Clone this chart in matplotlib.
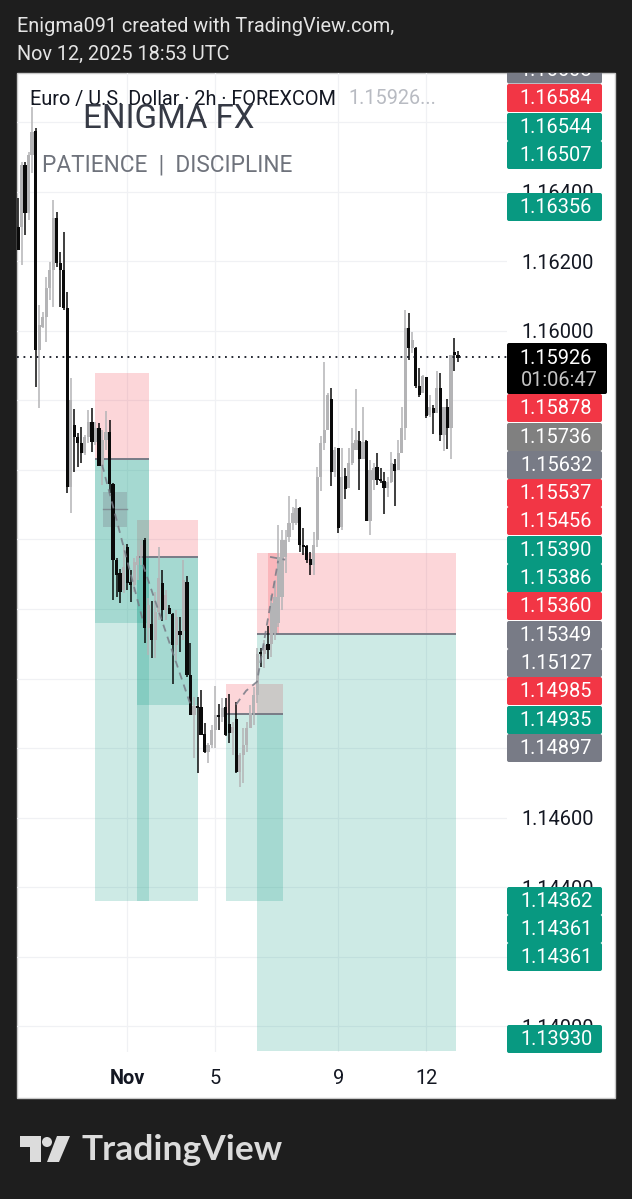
import matplotlib
matplotlib.use("Agg")
import matplotlib.pyplot as plt
from matplotlib.patches import Rectangle, FancyBboxPatch, Polygon, Circle

plt.rcParams['font.family'] = ['Roboto', 'DejaVu Sans']

# candles, 2h EUR/USD
opens = [1.16302,1.16302,1.16480,1.16342,1.16509,1.16578,1.15948,1.16014,1.16043,1.16127,
         1.16178,1.16328,1.16198,1.16178,1.16069,1.15554,1.15733,1.15698,1.15681,1.15652,
         1.15698,1.15741,1.15684,1.15724,1.15615,1.15689,1.15712,1.15563,1.15344,1.15307,
         1.15258,1.15382,1.15281,1.15273,1.15330,1.15356,1.15402,1.15149,1.15160,1.15114,
         1.15195,1.15278,1.15201,1.15206,1.15189,1.15100,1.15140,1.15140,1.15281,1.15014,
         1.14899,1.14925,1.14922,1.14844,1.14792,1.14813,1.14856,1.14899,1.14893,1.14922,
         1.14873,1.14847,1.14887,1.14735,1.14784,1.14813,1.14861,1.14905,1.14956,1.15080,
         1.15074,1.15103,1.15103,1.15135,1.15163,1.15238,1.15353,1.15411,1.15451,1.15451,
         1.15494,1.15388,1.15385,1.15347,1.15330,1.15402,1.15583,1.15681,1.15718,1.15807,
         1.15597,1.15666,1.15439,1.15586,1.15551,1.15623,1.15661,1.15687,1.15635,1.15687,
         1.15457,1.15574,1.15612,1.15577,1.15572,1.15551,1.15569,1.15620,1.15603,1.15652,
         1.15724,1.16012,1.15954,1.15954,1.15845,1.15825,1.15871,1.15761,1.15781,1.15767,
         1.15839,1.15704,1.15784,1.15724,1.15942,1.15934]
highs = [1.16385,1.16489,1.16489,1.16518,1.16647,1.16587,1.16078,1.16058,1.16158,1.16201,
         1.16380,1.16345,1.16230,1.16288,1.16115,1.15868,1.15779,1.15710,1.15727,1.15704,
         1.15776,1.15781,1.15741,1.15738,1.15718,1.15773,1.15747,1.15566,1.15350,1.15319,
         1.15388,1.15390,1.15316,1.15350,1.15373,1.15402,1.15408,1.15235,1.15227,1.15252,
         1.15382,1.15316,1.15258,1.15215,1.15192,1.15201,1.15181,1.15344,1.15298,1.15106,
         1.14951,1.14951,1.14971,1.14876,1.14818,1.14870,1.14982,1.14930,1.14948,1.14948,
         1.14959,1.14879,1.14936,1.14790,1.14861,1.14879,1.14928,1.14979,1.15091,1.15091,
         1.15114,1.15155,1.15244,1.15287,1.15445,1.15431,1.15431,1.15528,1.15497,1.15520,
         1.15497,1.15436,1.15388,1.15367,1.15425,1.15612,1.15701,1.15914,1.15825,1.15839,
         1.15669,1.15666,1.15666,1.15609,1.15666,1.15724,1.15836,1.15715,1.15784,1.15689,
         1.15632,1.15623,1.15652,1.15609,1.15597,1.15583,1.15655,1.15635,1.15689,1.15784,
         1.16063,1.16055,1.16000,1.15957,1.15896,1.15876,1.15871,1.15819,1.15790,1.15888,
         1.15882,1.15784,1.15807,1.15934,1.15983,1.15945]
lows = [1.16236,1.16193,1.16279,1.16322,1.16457,1.15842,1.15781,1.16012,1.15971,1.16092,
        1.16072,1.16187,1.16072,1.16063,1.15537,1.15480,1.15597,1.15612,1.15623,1.15646,
        1.15681,1.15655,1.15675,1.15615,1.15560,1.15661,1.15537,1.15229,1.15238,1.15221,
        1.15250,1.15258,1.15224,1.15252,1.15287,1.15330,1.15106,1.15071,1.15063,1.15063,
        1.15172,1.15169,1.15172,1.15189,1.14988,1.15057,1.15080,1.15114,1.15008,1.14899,
        1.14775,1.14732,1.14841,1.14790,1.14761,1.14804,1.14804,1.14856,1.14879,1.14838,
        1.14818,1.14784,1.14732,1.14692,1.14703,1.14792,1.14864,1.14870,1.14933,1.15037,
        1.15034,1.15060,1.15066,1.15114,1.15152,1.15201,1.15307,1.15396,1.15431,1.15445,
        1.15367,1.15359,1.15336,1.15301,1.15301,1.15382,1.15543,1.15661,1.15718,1.15557,
        1.15583,1.15422,1.15431,1.15520,1.15551,1.15618,1.15661,1.15546,1.15641,1.15457,
        1.15416,1.15546,1.15560,1.15566,1.15477,1.15526,1.15566,1.15500,1.15603,1.15652,
        1.15689,1.15919,1.15940,1.15839,1.15813,1.15825,1.15753,1.15756,1.15707,1.15767,
        1.15687,1.15658,1.15664,1.15635,1.15888,1.15914]
closes = [1.16236,1.16480,1.16342,1.16509,1.16575,1.15948,1.16020,1.16043,1.16127,1.16178,
          1.16328,1.16198,1.16178,1.16069,1.15554,1.15804,1.15698,1.15681,1.15652,1.15698,
          1.15741,1.15684,1.15724,1.15615,1.15689,1.15712,1.15563,1.15344,1.15301,1.15252,
          1.15324,1.15278,1.15273,1.15339,1.15356,1.15388,1.15149,1.15215,1.15114,1.15195,
          1.15293,1.15201,1.15244,1.15189,1.15100,1.15181,1.15129,1.15287,1.15014,1.14899,
          1.14925,1.14919,1.14841,1.14792,1.14813,1.14856,1.14899,1.14893,1.14919,1.14841,
          1.14847,1.14864,1.14735,1.14784,1.14813,1.14861,1.14905,1.14956,1.15074,1.15074,
          1.15100,1.15086,1.15221,1.15238,1.15353,1.15402,1.15402,1.15451,1.15480,1.15494,
          1.15388,1.15382,1.15344,1.15330,1.15388,1.15583,1.15681,1.15718,1.15819,1.15597,
          1.15661,1.15436,1.15583,1.15549,1.15623,1.15681,1.15689,1.15635,1.15684,1.15457,
          1.15603,1.15609,1.15574,1.15572,1.15551,1.15569,1.15623,1.15600,1.15652,1.15724,
          1.16012,1.15954,1.15977,1.15845,1.15819,1.15873,1.15758,1.15784,1.15767,1.15839,
          1.15704,1.15784,1.15724,1.15934,1.15934,1.15926]

last_price = 1.15926

# price axis, labels under the tags are left blank
price_ticks = [1.140,1.142,1.144,1.146,1.148,1.150,1.152,1.154,1.156,1.158,1.160,1.162,1.164,1.166]
shown_ticks = [1.140, 1.144, 1.146, 1.160, 1.162, 1.164]
date_ticks = [31, 56, 91, 116]
date_labels = ["Nov", "5", "9", "12"]

# long/short position boxes: bar start, bar end, top, bottom
red_boxes = [(21.9, 37.2, 1.15878, 1.15632), (33.8, 51.1, 1.15456, 1.15349),
             (59.1, 75.3, 1.14985, 1.14897), (67.9, 124.4, 1.15360, 1.15127),
             (71.0, 74.2, 1.15360, 1.15127)]
green_boxes = [(21.9, 37.2, 1.15632, 1.14362), (21.9, 37.2, 1.15632, 1.15160),
               (33.8, 51.1, 1.15349, 1.14361), (33.8, 51.1, 1.15349, 1.14925),
               (59.1, 75.3, 1.14897, 1.14361), (67.9, 124.4, 1.15127, 1.13930)]
entry_lines = [(21.9, 37.2, 1.15632), (33.8, 51.1, 1.15349),
               (59.1, 75.3, 1.14897), (67.9, 124.4, 1.15127)]
small_box = (24.1, 31.0, 1.15537, 1.15437, 1.15488)

# dashed paths
path_bars = [[23.9, 35.5], [35.5, 48.9], [61.9, 64.8, 67.9, 71.0, 73.9], [71.6, 75.9]]
path_prices = [[1.15615, 1.15166], [1.15327, 1.14928],
               [1.14925, 1.14965, 1.14991, 1.15172, 1.15339], [1.15350, 1.15342]]

# right hand labels
tag_values = ["1.16608","1.16584","1.16544","1.16507","1.16356","1.15878","1.15736","1.15632",
              "1.15537","1.15456","1.15390","1.15386","1.15360","1.15349","1.15127","1.14985",
              "1.14935","1.14897","1.14362","1.14361","1.14361","1.13930"]
tag_kinds = ["g","r","t","t","t","r","m","g","r","r","t","t","r","g","g","r","t","g","t","t","t","t"]
tag_rows = [69.5,98,127,155,207,408,437,465,493,521,550,578,606,635,663,691,720,748,901,929,957,1039]

COLORS = {"g": "#787b86", "r": "#f23645", "t": "#089981", "m": "#808080"}
BG = "#1e1e1e"
W, H = 632, 1199
PANE = (17, 507, 73, 1052)
# candle prices were read against a slightly lower baseline
READ_SHIFT = -3.7e-5


def main():
    fig = plt.figure(figsize=(W / 100, H / 100), dpi=100, facecolor=BG)

    # background frame
    back = fig.add_axes([0, 0, 1, 1], zorder=0)
    back.set_xlim(0, W)
    back.set_ylim(H, 0)
    back.axis("off")
    back.add_patch(Rectangle((17, 73), 598, 1025, fc="white", ec="#c8c8c8", lw=1))

    # main pane
    left, right, top, bottom = PANE
    ax = fig.add_axes([left / W, 1 - bottom / H, (right - left) / W, (bottom - top) / H], zorder=1)
    ax.patch.set_alpha(0)
    ax.set_xlim((left - 18) / 3.52, (right - 18) / 3.52)
    ax.set_ylim(1.16 - (bottom - 330.8) * 2.875e-5, 1.16 + (330.8 - top) * 2.875e-5)
    for s in ax.spines.values():
        s.set_visible(False)
    ax.yaxis.tick_right()
    ax.set_yticks(price_ticks)
    ax.set_yticklabels(["%.5f" % p if p in shown_ticks else "" for p in price_ticks])
    ax.set_xticks(date_ticks)
    ax.set_xticklabels(date_labels)
    ax.get_xticklabels()[0].set_fontweight("bold")
    ax.tick_params(axis="both", length=0, labelsize=14.4, labelcolor="#131722")
    ax.tick_params(axis="y", pad=10)
    ax.tick_params(axis="x", pad=12)
    ax.grid(True, color="#f0f1f4", lw=0.9)
    ax.set_axisbelow(True)

    for x0, x1, y0, y1 in red_boxes:
        ax.add_patch(Rectangle((x0, y1), x1 - x0, y0 - y1, fc="#f23645", alpha=0.2, lw=0, zorder=1))
    for x0, x1, y0, y1 in green_boxes:
        ax.add_patch(Rectangle((x0, y1), x1 - x0, y0 - y1, fc="#089981", alpha=0.2, lw=0, zorder=1))
    x0, x1, y0, y1, mid = small_box
    ax.add_patch(Rectangle((x0, y1), x1 - x0, y0 - y1, fc="#787b86", alpha=0.3, lw=0, zorder=1))
    ax.plot([x0, x1], [mid, mid], color="#787b86", lw=1, alpha=0.7, zorder=1)
    for x0, x1, y in entry_lines:
        ax.plot([x0, x1], [y, y], color="#787b86", lw=1.4, zorder=2, solid_capstyle="butt")

    # candles, black = down, grey = up
    for i in range(len(opens)):
        down = closes[i] < opens[i]
        col = "#0a0a0a" if down else "#b4b4b6"
        z = 4 if down else 3
        ax.vlines(i, lows[i] + READ_SHIFT, highs[i] + READ_SHIFT, color=col, lw=1.1, zorder=z)
        ax.bar(i, abs(closes[i] - opens[i]), bottom=min(opens[i], closes[i]) + READ_SHIFT, width=0.9,
               color=col, lw=0, zorder=z)

    for bx, py in zip(path_bars, path_prices):
        ax.plot(bx, py, color="#787b86", lw=1.3, ls=(0, (4, 3)), alpha=0.85, zorder=5)

    ax.axhline(last_price, color="#131722", lw=1.3, ls=(0, (1, 2.6)), zorder=6)

    # everything on top: labels and header text
    over = fig.add_axes([0, 0, 1, 1], zorder=2)
    over.set_xlim(0, W)
    over.set_ylim(H, 0)
    over.axis("off")
    over.patch.set_alpha(0)
    clip = Rectangle((17, 73), 598, 1025, transform=over.transData)

    for val, kind, row in zip(tag_values, tag_kinds, tag_rows):
        tag = FancyBboxPatch((507, row - 14), 95, 28, boxstyle="round,pad=0,rounding_size=2",
                             fc=COLORS[kind], lw=0, zorder=3)
        over.add_patch(tag)
        tag.set_clip_path(clip)
        t = over.text(556, row + 0.5, val, color="white", fontsize=14.4, ha="center", va="center", zorder=4)
        t.set_clip_on(True)
        t.set_clip_path(clip)

    over.add_patch(FancyBboxPatch((507, 343), 100, 51, boxstyle="round,pad=0,rounding_size=2",
                                  fc="black", lw=0, zorder=5))
    over.text(556, 358, "1.15926", color="white", fontsize=14.4, ha="center", va="center", zorder=6)
    over.text(559, 381, "01:06:47", color="#c4c4c4", fontsize=14.4, ha="center", va="center", zorder=6)

    over.text(30, 99, "Euro / U.S. Dollar · 2h · FOREXCOM", color="#131722", fontsize=14.3, ha="left", va="center")
    over.text(348, 99, "1.15926...", color="#b8bbc2", fontsize=14.3, ha="left", va="center")
    over.text(83, 119, "ENIGMA FX", color="#363a45", fontsize=23.8, ha="left", va="center")
    over.text(42, 165, "PATIENCE  |  DISCIPLINE", color="#6f737c", fontsize=16.3, ha="left", va="center")

    over.text(17, 26, "Enigma091 created with TradingView.com,", color="#e4e4e4", fontsize=14.3, ha="left", va="center")
    over.text(17, 54, "Nov 12, 2025 18:53 UTC", color="#e4e4e4", fontsize=14.3, ha="left", va="center")

    # TradingView logo
    logo = "#dcdcdc"
    over.add_patch(Polygon([(20, 1136), (41, 1136), (41, 1162), (30, 1162), (30, 1147), (20, 1147)], fc=logo, lw=0))
    over.add_patch(Circle((47, 1142), 5, fc=logo, lw=0))
    over.add_patch(Polygon([(57, 1136), (70, 1136), (59, 1162), (47, 1162)], fc=logo, lw=0))
    over.text(81, 1150, "TradingView", color=logo, fontsize=25.5, fontweight="bold", family="Lato", ha="left", va="center")

    fig.savefig("out.png", dpi=100, facecolor=BG)


if __name__ == "__main__":
    main()
